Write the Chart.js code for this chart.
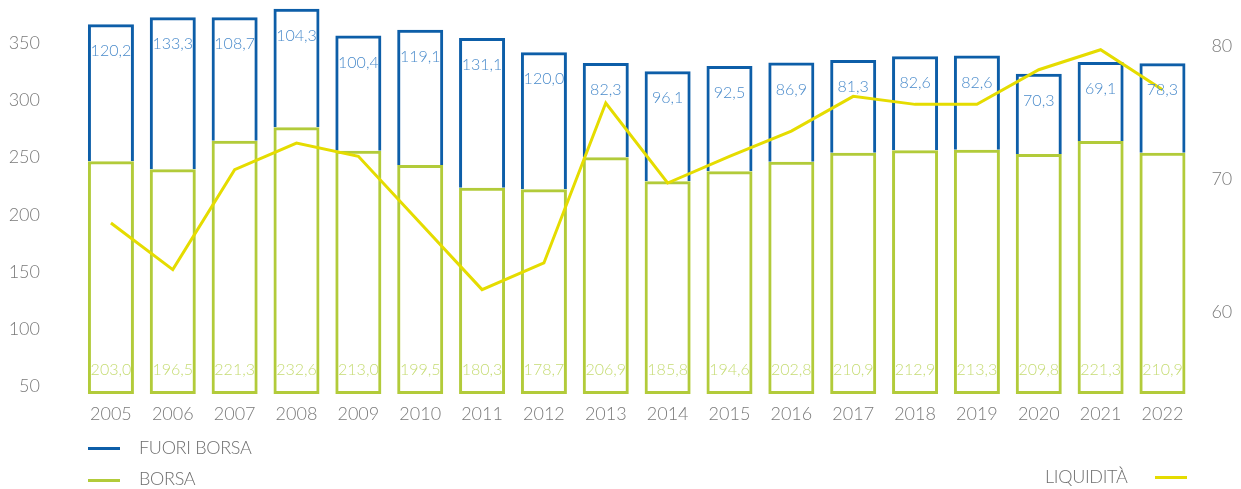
<!DOCTYPE html>
<html>
<head>
<meta charset="utf-8">
<script src="https://cdn.jsdelivr.net/npm/chart.js@4/dist/chart.umd.min.js"></script>
<style>
  html, body { margin: 0; padding: 0; background: #ffffff; }
  #wrap { position: relative; width: 1241px; height: 489px; font-family: Lato, "Open Sans", sans-serif; font-weight: 300; }
  canvas { position: absolute; left: 0; top: 0; }
  .leg { position: absolute; color: #6e6e6e; font-size: 18px; line-height: 20px; white-space: nowrap; letter-spacing: -0.3px; }
  .sw { position: absolute; height: 3px; width: 32px; }
</style>
</head>
<body>
<div id="wrap">
  <canvas id="c" width="1241" height="489"></canvas>
  <div class="sw" style="left:88px; top:447px; background:#0d5ea8;"></div>
  <div class="leg" style="left:139px; top:437px;">FUORI BORSA</div>
  <div class="sw" style="left:88px; top:479px; background:#b2cb3a;"></div>
  <div class="leg" style="left:139px; top:468px;">BORSA</div>
  <div class="leg" style="left:1045px; top:466px;">LIQUIDITÀ</div>
  <div class="sw" style="left:1155px; top:476px; background:#e5dc00;"></div>
</div>
<script>
// ---- data ----
const years = ['2005','2006','2007','2008','2009','2010','2011','2012','2013','2014','2015','2016','2017','2018','2019','2020','2021','2022'];
// printed values (labels)
const borsaLabels = [203.0,196.5,221.3,232.6,213.0,199.5,180.3,178.7,206.9,185.8,194.6,202.8,210.9,212.9,213.3,209.8,221.3,210.9];
const fuoriLabels = [120.2,133.3,108.7,104.3,100.4,119.1,131.1,120.0,82.3,96.1,92.5,86.9,81.3,82.6,82.6,70.3,69.1,78.3];
// drawn bar levels on the left axis
const borsaTop = [246.8,239.8,264.9,276.6,256.1,243.6,223.7,222.3,250.4,229.3,238.1,246.5,254.4,256.5,257.0,253.2,264.6,254.4];
const totalTop = [366.8,373.1,373.1,380.4,357.0,362.0,354.9,342.4,333.0,325.7,330.4,333.3,335.6,338.9,339.4,323.4,333.9,332.8];
// liquidity line (right axis)
const liquidita = [66.7,63.2,70.7,72.7,71.7,66.7,61.7,63.7,75.7,69.7,71.7,73.6,76.2,75.6,75.6,78.2,79.7,76.7];
const leftTicks = [50,100,150,200,250,300,350];
const rightTicks = [60,70,80];

const Y_MIN = 43, Y_MAX = 388.1;
const Y2_MIN = 53.87, Y2_MAX = 83.43;
const FONT = 'Lato, "Open Sans", sans-serif';
const fmt = v => v.toFixed(1).replace('.', ',');

const labelPlugin = {
  id: 'barLabels',
  afterDatasetsDraw(chart) {
    const ctx = chart.ctx;
    const fuoriMeta = chart.getDatasetMeta(1);
    const borsaMeta = chart.getDatasetMeta(0);
    ctx.save();
    ctx.font = '300 16px ' + FONT;
    ctx.textAlign = 'center';
    ctx.textBaseline = 'middle';
    fuoriMeta.data.forEach((el, i) => {
      ctx.fillStyle = '#4a8bcb';
      ctx.fillText(fmt(fuoriLabels[i]), el.x, el.y + 27);
    });
    borsaMeta.data.forEach((el, i) => {
      ctx.fillStyle = '#c6dc74';
      ctx.fillText(fmt(borsaLabels[i]), el.x, chart.chartArea.bottom - 24);
    });
    ctx.restore();
  }
};

new Chart(document.getElementById('c'), {
  data: {
    labels: years,
    datasets: [
      {
        type: 'bar', label: 'BORSA', data: borsaTop, base: Y_MIN,
        borderColor: '#b2cb3a', backgroundColor: 'rgba(255,255,255,0)',
        borderWidth: 3, borderSkipped: false, grouped: false,
        barPercentage: 0.744, categoryPercentage: 1, order: 1, yAxisID: 'y'
      },
      {
        type: 'bar', label: 'FUORI BORSA', data: borsaTop.map((b, i) => [b, totalTop[i]]),
        borderColor: '#0d5ea8', backgroundColor: 'rgba(255,255,255,0)',
        borderWidth: 3, borderSkipped: 'bottom', grouped: false,
        barPercentage: 0.744, categoryPercentage: 1, order: 2, yAxisID: 'y'
      },
      {
        type: 'line', label: 'LIQUIDITÀ', data: liquidita, yAxisID: 'y2',
        borderColor: '#e5dc00', borderWidth: 3, pointRadius: 0, tension: 0, fill: false, order: 0
      }
    ]
  },
  options: {
    responsive: false, animation: false,
    layout: { padding: 0 },
    plugins: { legend: { display: false }, tooltip: { enabled: false } },
    scales: {
      x: {
        grid: { display: false, drawTicks: false }, border: { display: false },
        ticks: { color: '#7a7a7a', font: { family: FONT, size: 18, weight: 300 }, padding: 9, maxRotation: 0, autoSkip: false },
        afterFit(s) { s.height = 95; }
      },
      y: {
        position: 'left', min: Y_MIN, max: Y_MAX,
        grid: { display: false, drawTicks: false }, border: { display: false },
        ticks: { color: '#7a7a7a', font: { family: FONT, size: 18, weight: 300 }, padding: 40 },
        afterBuildTicks(s) { s.ticks = leftTicks.map(v => ({ value: v })); },
        afterFit(s) { s.width = 80; s.paddingTop = 0; s.paddingBottom = 0; }
      },
      y2: {
        position: 'right', min: Y2_MIN, max: Y2_MAX,
        grid: { display: false, drawTicks: false }, border: { display: false },
        ticks: { color: '#7a7a7a', font: { family: FONT, size: 18, weight: 300 }, padding: 18 },
        afterBuildTicks(s) { s.ticks = rightTicks.map(v => ({ value: v })); },
        afterFit(s) { s.width = 47.6; s.paddingTop = 0; s.paddingBottom = 0; }
      }
    }
  },
  plugins: [labelPlugin]
});
</script>
</body>
</html>
